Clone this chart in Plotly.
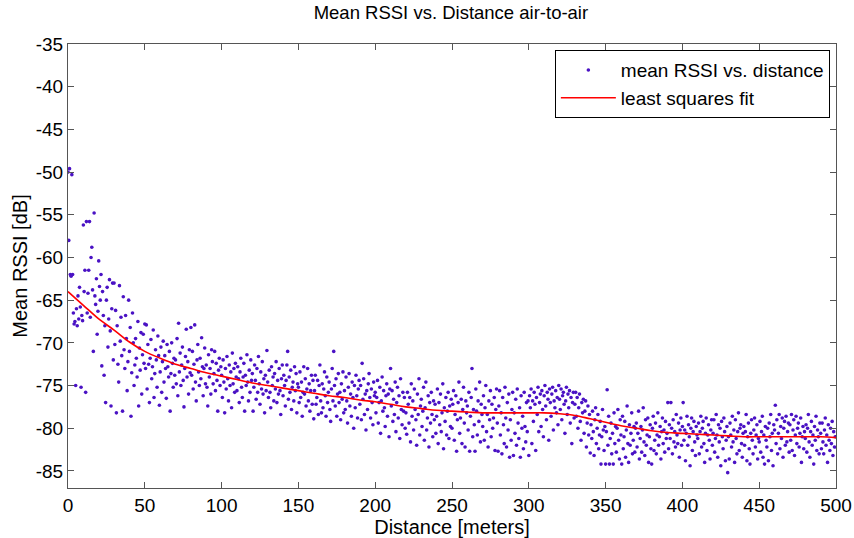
import numpy as np
import plotly.graph_objects as go

# Mean RSSI [dB], one block of 20 samples per 10 m (0.5 m step)
rssi_000_050 = [
    -50.0, -58.0, -49.6, -62.0, -62.2, -50.3, -62.0, -66.5, -67.8, -67.5, -75.0, -66.0, -68.0, -64.5, -67.2, -63.5, -65.8, -75.2, -66.8, -67.4,
    -56.2, -64.0, -61.5, -75.8, -55.8, -66.5, -64.2, -61.5, -55.8, -67.0, -60.0, -58.8, -63.8, -71.0, -54.8, -64.5, -65.5, -62.5, -69.0, -66.3,
    -60.4, -63.4, -65.0, -62.0, -72.7, -64.0, -66.8, -73.8, -68.0, -77.0, -65.0, -63.5, -70.5, -67.2, -62.6, -68.6, -77.4, -66.0, -63.0, -72.0,
    -63.0, -70.2, -66.2, -78.2, -68.0, -72.5, -74.6, -63.3, -69.8, -67.0, -71.5, -78.0, -64.6, -70.8, -73.0, -66.8, -69.5, -75.6, -72.2, -65.0,
    -71.0, -68.2, -78.6, -73.5, -66.5, -70.0, -75.0, -72.6, -69.5, -71.8, -74.0, -67.5, -77.4, -70.6, -73.2, -68.8, -76.0, -71.4, -69.0, -72.4,
]
rssi_050_100 = [
    -67.8, -73.0, -67.9, -75.4, -70.2, -72.5, -77.0, -71.8, -69.6, -74.2, -72.8, -68.5, -76.4, -73.6, -70.8, -72.0, -75.2, -69.2, -71.5, -77.3,
    -73.4, -70.5, -75.8, -72.2, -69.8, -74.6, -71.5, -73.0, -76.5, -70.2, -72.8, -74.0, -71.0, -78.0, -73.6, -70.0, -72.4, -75.2, -71.8, -73.8,
    -72.0, -74.8, -69.5, -76.2, -67.7, -73.4, -71.2, -75.0, -72.6, -70.5, -74.4, -77.5, -73.0, -71.6, -68.4, -74.0, -72.2, -76.0, -70.8, -73.5,
    -68.2, -73.8, -71.0, -75.4, -72.5, -67.9, -74.6, -76.8, -72.0, -70.2, -73.4, -75.0, -71.8, -74.2, -69.4, -72.8, -76.2, -73.0, -70.6, -74.8,
    -72.6, -75.2, -77.4, -71.4, -74.0, -73.0, -76.0, -70.8, -72.2, -74.8, -73.6, -71.0, -75.6, -72.4, -74.4, -78.0, -73.2, -71.8, -75.0, -72.8,
]
rssi_100_150 = [
    -73.8, -76.4, -72.0, -74.6, -78.2, -73.0, -75.4, -71.6, -74.2, -76.8, -72.6, -75.0, -73.4, -77.6, -71.2, -74.8, -73.0, -75.8, -72.4, -74.0,
    -75.6, -72.8, -74.2, -77.0, -73.4, -71.8, -75.2, -76.4, -74.0, -72.4, -78.0, -73.8, -75.0, -71.4, -74.6, -76.8, -73.2, -75.8, -72.0, -74.4,
    -73.6, -78.0, -75.2, -72.6, -74.4, -76.6, -73.0, -75.8, -71.6, -74.8, -77.2, -73.4, -75.4, -72.2, -76.0, -74.2, -78.2, -73.8, -75.6, -70.9,
    -74.6, -76.4, -73.2, -75.8, -77.6, -72.8, -75.0, -74.0, -76.8, -73.6, -75.4, -72.2, -77.0, -74.4, -76.0, -73.0, -75.6, -78.4, -74.2, -72.6,
    -76.2, -73.8, -75.0, -77.4, -74.4, -72.6, -71.0, -76.6, -74.0, -75.8, -73.2, -77.8, -75.2, -74.6, -76.8, -72.8, -75.6, -73.6, -78.2, -74.8,
]
rssi_150_200 = [
    -75.2, -77.0, -73.4, -76.4, -74.6, -78.6, -75.8, -72.8, -76.0, -74.2, -77.4, -75.4, -73.0, -76.8, -74.8, -78.0, -75.6, -73.8, -77.2, -74.4,
    -78.9, -75.6, -73.8, -77.2, -76.4, -74.4, -78.4, -75.0, -72.6, -76.8, -78.2, -74.8, -77.6, -75.4, -73.4, -76.2, -78.6, -74.0, -77.0, -75.8,
    -74.6, -77.8, -79.2, -75.4, -73.0, -76.8, -71.0, -75.0, -77.4, -74.2, -78.6, -76.0, -73.6, -77.0, -75.8, -79.0, -74.8, -76.6, -73.4, -78.2,
    -75.6, -77.8, -74.0, -76.8, -79.4, -75.2, -73.6, -77.4, -76.0, -78.6, -74.6, -76.4, -80.0, -75.0, -77.6, -73.8, -76.2, -78.8, -75.4, -74.4,
    -77.2, -75.0, -79.0, -72.4, -76.6, -74.2, -78.4, -76.0, -80.2, -75.6, -77.8, -74.8, -73.6, -76.4, -78.8, -75.4, -77.0, -79.6, -74.6, -76.2,
]
rssi_200_250 = [
    -75.8, -78.2, -76.4, -74.4, -79.4, -77.0, -75.2, -80.6, -76.8, -74.0, -78.0, -75.6, -77.6, -79.8, -76.2, -74.8, -78.6, -76.0, -81.0, -75.4,
    -73.0, -77.4, -75.6, -79.2, -76.6, -78.4, -74.6, -80.4, -77.0, -75.2, -78.8, -76.2, -81.2, -74.2, -77.8, -79.6, -75.8, -78.0, -76.4, -80.0,
    -78.2, -80.7, -75.8, -77.2, -79.4, -76.4, -81.6, -74.8, -78.6, -76.8, -80.2, -75.4, -77.8, -79.0, -82.0, -76.0, -78.4, -74.2, -80.8, -77.4,
    -76.6, -79.8, -78.0, -75.2, -81.4, -77.6, -74.6, -80.2, -78.8, -76.2, -82.2, -77.0, -79.4, -75.8, -78.4, -81.0, -76.8, -79.0, -77.2, -80.6,
    -78.6, -75.4, -81.8, -77.0, -79.6, -76.0, -80.4, -78.2, -74.8, -82.4, -77.6, -79.2, -76.4, -80.8, -78.0, -75.8, -81.2, -77.4, -79.8, -76.6,
]
rssi_250_300 = [
    -80.0, -77.2, -75.6, -81.4, -78.4, -76.2, -82.7, -79.0, -77.0, -74.6, -80.6, -78.8, -76.6, -81.8, -77.8, -75.2, -79.4, -82.2, -76.8, -78.2,
    -77.4, -80.2, -75.8, -82.7, -78.6, -76.4, -73.0, -81.0, -77.8, -79.6, -82.7, -75.4, -78.0, -80.8, -76.8, -79.2, -74.6, -81.6, -77.2, -78.4,
    -79.8, -76.2, -81.4, -77.6, -75.0, -80.4, -78.4, -82.2, -76.8, -79.0, -75.6, -81.0, -77.2, -80.0, -78.8, -76.4, -82.6, -77.8, -75.4, -79.4,
    -82.7, -77.4, -75.6, -80.8, -78.2, -83.0, -76.4, -79.6, -81.8, -75.2, -78.8, -82.2, -77.0, -80.2, -76.0, -83.4, -79.0, -81.4, -77.8, -75.8,
    -83.2, -78.2, -80.6, -76.6, -82.0, -75.4, -79.4, -81.2, -77.6, -83.4, -76.2, -80.0, -78.6, -82.4, -75.8, -79.8, -81.6, -77.0, -80.4, -76.8,
]
rssi_300_350 = [
    -83.2, -76.2, -77.6, -75.4, -81.8, -76.8, -79.2, -75.8, -77.2, -82.6, -76.4, -78.4, -75.2, -80.4, -77.0, -76.0, -79.8, -75.6, -77.8, -81.0,
    -76.2, -75.0, -77.4, -79.0, -75.8, -76.6, -81.4, -75.4, -77.0, -78.6, -76.0, -75.2, -80.2, -76.8, -77.6, -75.6, -78.2, -76.4, -79.6, -75.0,
    -76.6, -77.8, -75.4, -79.0, -76.2, -75.8, -77.2, -80.6, -76.8, -75.2, -78.4, -76.0, -77.6, -75.6, -79.4, -76.4, -81.8, -77.0, -75.8, -78.8,
    -77.2, -75.8, -78.6, -76.4, -80.0, -77.6, -76.0, -79.2, -81.4, -77.0, -78.2, -76.6, -80.6, -78.0, -76.8, -82.2, -79.4, -77.4, -80.8, -78.4,
    -82.9, -79.6, -81.2, -78.0, -80.4, -83.2, -79.0, -77.6, -81.8, -80.0, -78.4, -82.4, -80.8, -79.2, -84.2, -81.0, -77.8, -80.2, -82.6, -79.8,
]
rssi_350_400 = [
    -84.2, -80.4, -75.5, -82.0, -78.6, -84.2, -81.2, -79.4, -83.0, -80.6, -84.2, -78.2, -81.8, -79.8, -82.8, -80.0, -77.8, -81.4, -83.6, -79.0,
    -80.8, -84.2, -78.6, -82.4, -81.0, -79.2, -83.4, -80.2, -77.4, -81.8, -84.0, -79.6, -82.0, -80.6, -78.2, -83.0, -81.4, -79.8, -82.8, -80.0,
    -79.4, -82.2, -80.6, -78.0, -83.6, -81.2, -79.8, -82.8, -80.2, -77.6, -81.6, -83.2, -79.0, -82.0, -80.8, -78.8, -84.0, -81.0, -79.6, -82.4,
    -84.2, -80.0, -78.6, -82.6, -81.4, -79.4, -83.0, -80.8, -78.2, -82.0, -81.0, -79.8, -83.6, -80.4, -78.8, -81.8, -80.2, -82.8, -79.2, -81.2,
    -80.6, -77.0, -82.4, -79.6, -81.2, -77.0, -80.0, -83.0, -79.0, -81.6, -80.4, -82.2, -78.4, -80.8, -81.8, -79.4, -83.4, -80.2, -78.8, -82.0,
]
rssi_400_450 = [
    -79.8, -77.0, -81.4, -80.2, -83.8, -80.6, -78.6, -82.0, -79.6, -81.0, -84.4, -80.0, -78.8, -82.6, -80.4, -79.2, -81.6, -83.2, -79.8, -80.8,
    -81.2, -79.4, -83.0, -80.4, -78.6, -82.2, -80.0, -79.2, -81.8, -84.0, -80.6, -78.8, -82.6, -80.8, -79.6, -81.4, -83.6, -80.2, -79.0, -82.0,
    -80.6, -79.0, -82.8, -81.2, -78.4, -80.8, -83.4, -79.6, -81.6, -80.0, -84.4, -79.2, -81.0, -82.4, -78.8, -80.4, -83.8, -81.4, -79.8, -85.2,
    -81.0, -83.6, -79.4, -80.8, -82.2, -78.6, -81.6, -80.2, -84.0, -79.0, -81.2, -83.0, -80.4, -78.2, -82.6, -80.0, -79.6, -81.8, -83.4, -80.6,
    -79.8, -82.0, -80.4, -78.4, -83.8, -81.0, -79.4, -82.4, -84.2, -80.6, -79.0, -81.4, -83.0, -80.2, -78.8, -82.2, -80.8, -79.6, -83.6, -81.2,
]
rssi_450_500 = [
    -81.6, -79.2, -82.8, -80.4, -78.6, -83.4, -80.8, -84.2, -79.8, -81.4, -82.2, -80.0, -83.8, -79.4, -81.0, -78.4, -82.6, -80.6, -84.4, -79.6,
    -80.2, -77.3, -81.8, -79.0, -83.0, -80.6, -78.4, -82.4, -79.8, -81.2, -78.8, -83.4, -80.0, -79.2, -82.0, -78.6, -81.6, -80.4, -79.4, -82.8,
    -79.6, -81.4, -78.4, -82.6, -80.2, -79.0, -83.2, -80.8, -78.6, -81.8, -80.0, -79.4, -82.2, -80.6, -78.8, -84.0, -81.0, -79.8, -82.4, -80.4,
    -81.2, -79.6, -82.8, -80.0, -78.4, -81.6, -83.4, -80.4, -79.2, -82.0, -80.8, -84.2, -79.8, -81.4, -78.6, -82.6, -80.2, -81.0, -83.0, -79.4,
    -80.6, -82.4, -79.4, -81.6, -83.0, -80.2, -78.8, -82.0, -80.8, -84.0, -79.6, -81.4, -82.6, -80.0, -81.8, -79.2, -83.2, -80.4, -82.2, -81.0,
]

# Least-squares fit curve read every 10 m
fit_dist = [0, 10, 20, 30, 40, 50, 60, 70, 80, 90, 100, 110, 120, 130, 140, 150, 160, 170, 180, 190, 200,
            210, 220, 230, 240, 250, 260, 270, 280, 290, 300, 310, 320, 330, 340, 350, 360, 370, 380, 390, 400,
            410, 420, 430, 440, 450, 460, 470, 480, 490, 500]
fit_rssi = [-64.0, -65.6, -67.2, -68.5, -69.9, -71.0, -71.8, -72.5, -73.0, -73.5, -73.9, -74.3, -74.7, -75.0, -75.3,
            -75.6, -75.9, -76.2, -76.4, -76.7, -76.9, -77.2, -77.5, -77.7, -77.9, -78.0, -78.1, -78.2, -78.2, -78.2,
            -78.2, -78.2, -78.3, -78.5, -78.9, -79.3, -79.7, -80.0, -80.3, -80.5, -80.6, -80.7, -80.8, -80.9, -81.0,
            -81.0, -81.0, -81.0, -81.0, -81.0, -81.1]

# Axis ticks
x_ticks = [0, 50, 100, 150, 200, 250, 300, 350, 400, 450, 500]
y_ticks = [-85, -80, -75, -70, -65, -60, -55, -50, -45, -40, -35]

rssi = (rssi_000_050 + rssi_050_100 + rssi_100_150 + rssi_150_200 + rssi_200_250 +
        rssi_250_300 + rssi_300_350 + rssi_350_400 + rssi_400_450 + rssi_450_500)
dist = np.arange(len(rssi)) * 0.5

FONT = "Liberation Sans, Arial, sans-serif"
BLACK = "#000000"

fig = go.Figure()
fig.add_trace(go.Scatter(
    x=dist, y=rssi, mode="markers", name="mean RSSI vs. distance",
    marker=dict(color="#4a12c4", size=3.6, symbol="circle", line=dict(width=0)),
))
fig.add_trace(go.Scatter(
    x=fit_dist, y=fit_rssi, mode="lines", name="least squares fit",
    line=dict(color="#ff0000", width=1.6, shape="spline"),
))

axis_common = dict(
    showline=True, linecolor="#555555", linewidth=1, mirror="ticks",
    ticks="inside", ticklen=6, tickcolor="#555555", showgrid=False, zeroline=False,
    tickfont=dict(family=FONT, size=19, color=BLACK), automargin=False,
)
fig.update_layout(
    width=854, height=538,
    margin=dict(l=68, r=18, t=44, b=50),
    paper_bgcolor="white", plot_bgcolor="white",
    title=dict(text="Mean RSSI vs. Distance air-to-air", x=0.528, xanchor="center",
               y=0.977, yanchor="middle", font=dict(family=FONT, size=18.5, color=BLACK)),
    xaxis=dict(range=[0, 500], tickvals=x_ticks, ticktext=[str(v) for v in x_ticks],
               title=dict(text="Distance [meters]", font=dict(family=FONT, size=20, color=BLACK), standoff=0),
               **axis_common),
    yaxis=dict(range=[-87, -35], tickvals=y_ticks, ticktext=[str(v) for v in y_ticks],
               title=dict(text="Mean RSSI [dB]", font=dict(family=FONT, size=20, color=BLACK), standoff=2),
               **axis_common),
    legend=dict(x=0.992, y=0.986, xanchor="right", yanchor="top",
                bgcolor="white", bordercolor=BLACK, borderwidth=1,
                font=dict(family=FONT, size=19, color=BLACK),
                tracegroupgap=0, itemsizing="trace", itemwidth=55),
    showlegend=True,
)

fig.write_html("out.html")
